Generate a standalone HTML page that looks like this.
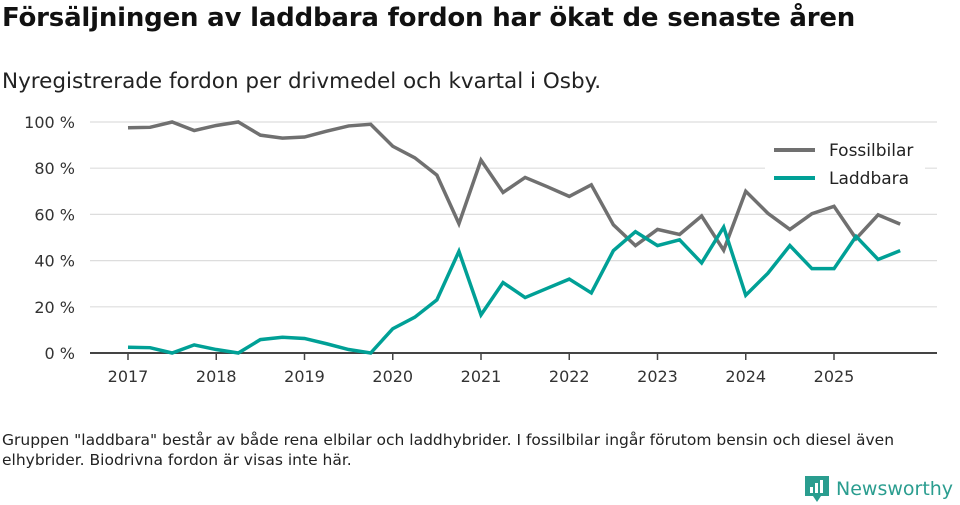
<!DOCTYPE html>
<html><head><meta charset="utf-8">
<style>
body{margin:0;width:960px;height:505px;background:#fff;font-family:"Liberation Sans","DejaVu Sans",sans-serif;overflow:hidden;position:relative;color:#111}
.t{position:absolute;left:2px;top:3px;font-size:26px;font-weight:bold;font-family:"DejaVu Sans",sans-serif;letter-spacing:-0.2px}
.s{position:absolute;left:2px;top:69px;font-size:21.5px;font-family:"DejaVu Sans",sans-serif;color:#222}
.f{position:absolute;left:2px;top:430px;font-size:15.5px;line-height:20px;font-family:"DejaVu Sans",sans-serif;color:#222;width:950px;white-space:nowrap}
svg{position:absolute;left:0;top:0}
</style></head><body>
<div class="t">Försäljningen av laddbara fordon har ökat de senaste åren</div>
<div class="s">Nyregistrerade fordon per drivmedel och kvartal i Osby.</div>
<div class="f">Gruppen "laddbara" består av både rena elbilar och laddhybrider. I fossilbilar ingår förutom bensin och diesel även<br>elhybrider. Biodrivna fordon är visas inte här.</div>
<svg id="c" width="960" height="505"></svg>
<div style="position:absolute;left:804px;top:474px;height:30px;display:flex;align-items:center">
<svg width="26" height="28" style="position:static"><path d="M1 1h24v20h-8l-4 6-4-6H1z" fill="#2a9d8f"/><rect x="6" y="12" width="3" height="6" fill="#fff"/><rect x="11" y="8" width="3" height="10" fill="#fff"/><rect x="16" y="5" width="3" height="13" fill="#fff"/></svg>
<span style="font-family:'DejaVu Sans',sans-serif;font-size:19px;color:#2a9d8f;margin-left:6px">Newsworthy</span></div>
<script>
const years=[2017,2018,2019,2020,2021,2022,2023,2024,2025];
const yTicks=[0,20,40,60,80,100];
const fossil=[97.5,97.7,100,96.3,98.5,100,94.3,93,93.5,96,98.3,99,89.5,84.5,77,56,83.5,69.5,76,72,67.8,72.8,55.5,46.5,53.5,51.3,59.3,44.5,70,60.5,53.5,60.3,63.5,49.5,59.8,55.8];
const laddbara=[2.5,2.3,0,3.5,1.5,0,5.8,6.8,6.3,4,1.5,0,10.5,15.5,23,44,16.5,30.5,24,28,32,26,44.3,52.5,46.5,49,39,54.5,25,34.5,46.5,36.5,36.5,50.5,40.5,44.3];
const svg=document.getElementById('c');const NS='http://www.w3.org/2000/svg';
const X=q=>128+q*(834-128)/32;const Y=v=>353-v*2.31;
function el(t,a){const e=document.createElementNS(NS,t);for(const k in a)e.setAttribute(k,a[k]);svg.appendChild(e);return e;}
yTicks.forEach(v=>{
 const g=el('line',{x1:90,x2:937,y1:Y(v),y2:Y(v),stroke:v?'#ddd':'#444','stroke-width':v?1.2:2});
 
 
 const t=el('text',{x:75,y:Y(v)+6,'text-anchor':'end','font-size':16,fill:'#333','font-family':'DejaVu Sans,sans-serif'});t.textContent=v+' %';
 
 
});
years.forEach((yr,i)=>{
 const x=X(i*4);
 const l=el('line',{x1:x,x2:x,y1:353,y2:360,stroke:'#444','stroke-width':1.5});
 
 
 const t=el('text',{x:x,y:382,'text-anchor':'middle','font-size':16,fill:'#333','font-family':'DejaVu Sans,sans-serif'});t.textContent=yr;
 
 
});
function line(d,c,n){const p=el('polyline',{points:d.map((v,i)=>X(i)+','+Y(v)).join(' '),fill:'none',stroke:c,'stroke-width':3.5,'stroke-linejoin':'miter'});
 
 }
line(fossil,'#707070','fossilbilar-line');
line(laddbara,'#00a096','laddbara-line');
const bg=el('rect',{x:765,y:138,width:160,height:56,fill:'#fff'});


[['Fossilbilar','#707070',150],['Laddbara','#00a096',178]].forEach(([n,c,y])=>{
 const l=el('line',{x1:774,x2:815,y1:y,y2:y,stroke:c,'stroke-width':4});
 
 
 const t=el('text',{x:829,y:y+6,'font-size':17,fill:'#222','font-family':'DejaVu Sans,sans-serif'});t.textContent=n;
 
 
});
</script>
</body></html>
